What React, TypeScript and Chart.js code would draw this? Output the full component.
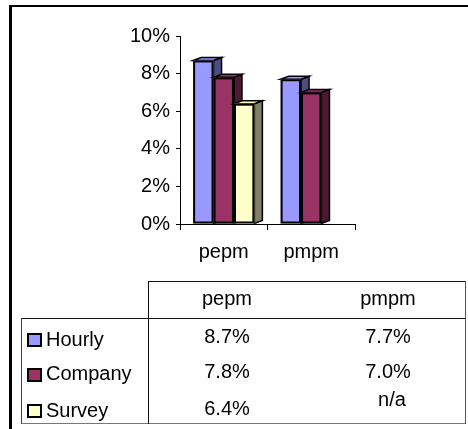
import React, { useEffect, useRef } from "react";
import { Chart, registerables } from "chart.js";

Chart.register(...registerables);

const categories = ["pepm", "pmpm"];
const seriesNames = ["Hourly", "Company", "Survey"];
const hourly: (number | null)[] = [8.7, 7.7];
const company: (number | null)[] = [7.8, 7.0];
const survey: (number | null)[] = [6.4, null];
const seriesValues = [hourly, company, survey];
const yMin = 0;
const yMax = 10;
const yStep = 2;

const frontColors = ["#9999FF", "#993366", "#FFFFCC"];
const sideColors = ["#4D4D80", "#4D1A33", "#808066"];

const FONT = "'Liberation Sans', Arial, sans-serif";

const depthPlugin = {
  id: "depth3d",
  afterDatasetsDraw(chart: any) {
    const ctx = chart.ctx as CanvasRenderingContext2D;
    const dx = 8;
    const dy = -3;
    ctx.save();
    ctx.lineJoin = "miter";
    for (let j = 0; j < categories.length; j++) {
      for (let i = 0; i < chart.data.datasets.length; i++) {
        const raw = chart.data.datasets[i].data[j];
        if (raw == null) continue;
        const bar = chart.getDatasetMeta(i).data[j];
        const { x, y, base, width } = bar.getProps(["x", "y", "base", "width"], true);
        const l = x - width / 2;
        const r = x + width / 2;
        ctx.strokeStyle = "#000";
        ctx.lineWidth = 1.5;
        // side face
        ctx.beginPath();
        ctx.moveTo(r, y);
        ctx.lineTo(r + dx, y + dy);
        ctx.lineTo(r + dx, base + dy);
        ctx.lineTo(r, base);
        ctx.closePath();
        ctx.fillStyle = sideColors[i];
        ctx.fill();
        ctx.stroke();
        // top face
        ctx.beginPath();
        ctx.moveTo(l, y);
        ctx.lineTo(l + dx, y + dy);
        ctx.lineTo(r + dx, y + dy);
        ctx.lineTo(r, y);
        ctx.closePath();
        ctx.fillStyle = frontColors[i];
        ctx.fill();
        ctx.stroke();
        // front face
        ctx.fillStyle = frontColors[i];
        ctx.fillRect(l, y, r - l, base - y);
        ctx.lineWidth = 2;
        ctx.strokeRect(l + 1, y + 1, r - l - 2, base - y - 2);
      }
    }
    ctx.restore();
  },
};

function fmt(v: number | null) {
  return v == null ? "n/a" : v.toFixed(1) + "%";
}

export default function App() {
  const ref = useRef<HTMLCanvasElement | null>(null);

  useEffect(() => {
    if (!ref.current) return;
    const chart = new Chart(ref.current, {
      type: "bar",
      data: {
        labels: categories,
        datasets: seriesNames.map((name, i) => ({
          label: name,
          data: seriesValues[i],
          backgroundColor: "rgba(0,0,0,0)",
          borderWidth: 0,
          categoryPercentage: 0.7,
          barPercentage: 1,
        })),
      },
      options: {
        responsive: false,
        animation: false,
        layout: { padding: { left: 130, top: 36, right: 113, bottom: 6 } },
        plugins: { legend: { display: false }, tooltip: { enabled: false } },
        scales: {
          x: {
            grid: { drawOnChartArea: false, tickLength: 6, color: "#000", offset: true },
            border: { color: "#000", width: 1 },
            ticks: { color: "#000", padding: 10, font: { family: FONT, size: 20 } },
          },
          y: {
            min: yMin,
            max: yMax,
            afterFit: (scale: any) => {
              scale.width = 50;
            },
            grid: { drawOnChartArea: false, tickLength: 4, color: "#000" },
            border: { color: "#000", width: 1 },
            ticks: {
              stepSize: yStep,
              color: "#000",
              padding: 6,
              font: { family: FONT, size: 20 },
              callback: (v: any) => `${v}%`,
            },
          },
        },
      },
      plugins: [depthPlugin],
    });
    return () => chart.destroy();
  }, []);

  const line = (s: React.CSSProperties): React.CSSProperties => ({ position: "absolute", ...s });
  const rowBaselines = [346, 380, 416.5];
  const valueBaselines = [
    [342.7, 342.7],
    [378, 378],
    [415, 406],
  ];
  const squareTops = [333, 368, 404];
  const colCenters = [227, 388];

  return (
    <div
      style={{
        position: "absolute",
        left: 0,
        top: 0,
        width: 468,
        height: 429,
        overflow: "hidden",
        background: "#fff",
        fontFamily: FONT,
        fontSize: 20,
        lineHeight: "20px",
        color: "#000",
      }}
    >
      <canvas ref={ref} width={468} height={280} style={{ position: "absolute", left: 0, top: 0 }} />
      {/* outer frame */}
      <div
        style={line({
          left: 9,
          top: 5,
          width: 459,
          height: 424,
          borderLeft: "3px solid #000",
          borderTop: "2px solid #000",
          boxSizing: "border-box",
        })}
      />
      {/* table lines */}
      <div style={line({ left: 148, top: 281, width: 318, height: 1, background: "#111" })} />
      <div style={line({ left: 21, top: 318, width: 445, height: 1, background: "#111" })} />
      <div style={line({ left: 21, top: 423, width: 445, height: 1, background: "#777" })} />
      <div style={line({ left: 148, top: 281, width: 1, height: 143, background: "#111" })} />
      <div style={line({ left: 465, top: 281, width: 1, height: 143, background: "#555" })} />
      <div style={line({ left: 21, top: 318, width: 1, height: 106, background: "#444" })} />
      {/* header */}
      {categories.map((c, k) => (
        <div
          key={c}
          style={line({ left: colCenters[k] - 60, width: 120, top: 305 - 17, textAlign: "center" })}
        >
          {c}
        </div>
      ))}
      {/* rows */}
      {seriesNames.map((name, i) => (
        <React.Fragment key={name}>
          <div
            style={line({
              left: 27,
              top: squareTops[i],
              width: 15,
              height: 14,
              background: frontColors[i],
              border: "2px solid #000",
              boxSizing: "border-box",
            })}
          />
          <div style={line({ left: 46, top: rowBaselines[i] - 17 })}>{name}</div>
          {categories.map((c, k) => (
            <div
              key={c}
              style={line({
                left: colCenters[k] - 60 + (seriesValues[i][k] == null ? 4 : 0),
                width: 120,
                top: valueBaselines[i][k] - 17,
                textAlign: "center",
              })}
            >
              {fmt(seriesValues[i][k])}
            </div>
          ))}
        </React.Fragment>
      ))}
    </div>
  );
}
